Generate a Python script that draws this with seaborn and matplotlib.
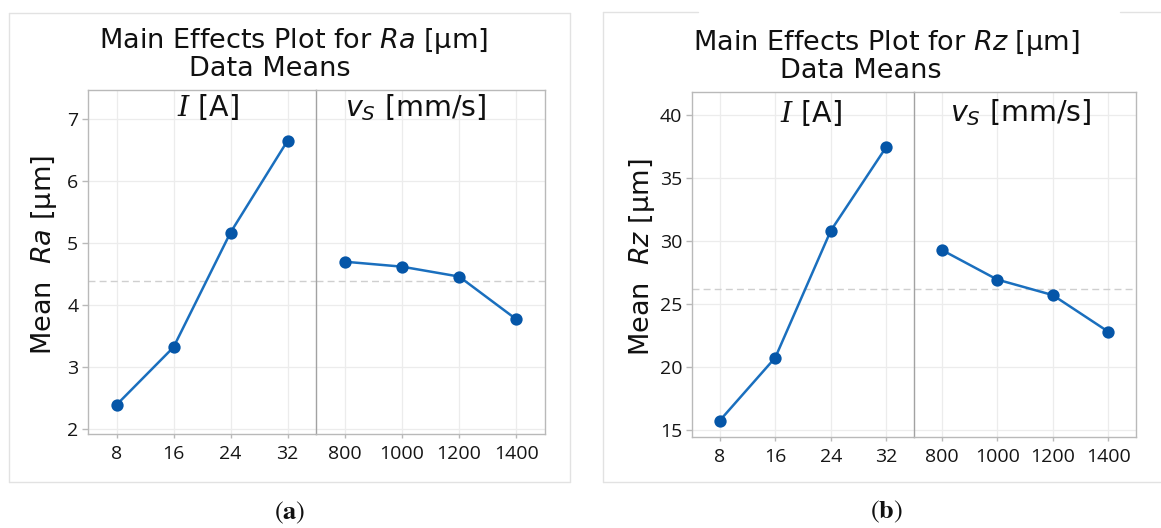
import matplotlib
matplotlib.use("Agg")
import matplotlib.pyplot as plt
from matplotlib.lines import Line2D
import pandas as pd
import seaborn as sns

# Factor levels
I_levels = ["8", "16", "24", "32"]
vs_levels = ["800", "1000", "1200", "1400"]

# Mean responses per level
ra_I = [2.39, 3.32, 5.17, 6.65]
ra_vs = [4.70, 4.62, 4.46, 3.77]
rz_I = [15.75, 20.74, 30.80, 37.44]
rz_vs = [29.28, 26.93, 25.70, 22.80]

ra_ticks = [2, 3, 4, 5, 6, 7]
rz_ticks = [15, 20, 25, 30, 35, 40]

sns.set_theme(style="white")
plt.rcParams["font.family"] = ["DejaVu Sans"]

W, H = 1161, 528
fig = plt.figure(figsize=(W / 100, H / 100), dpi=100)
fig.patch.set_facecolor("white")

LINE_C = "#1a6fbe"
MARK_C = "#0556a8"
SPINE_C = "#b9b9b9"
DIV_C = "#a2a2a2"
GRID_C = "#ececec"
TICK_C = "#151515"


def fx(px):
    return px / W


def fy(py):
    return 1 - py / H


def panel(box_l, box_r, ylim, yticks, vals_I, vals_vs, label_x, label_y, resp):
    # box = (x0, x1, ytop, ybottom) in pixels
    x0, xm, ytop, ybot = box_l
    _, x1, _, _ = box_r
    axL = fig.add_axes([fx(x0), fy(ybot), fx(xm - x0), (ybot - ytop) / H])
    axR = fig.add_axes([fx(xm), fy(ybot), fx(x1 - xm), (ybot - ytop) / H], sharey=axL)
    grand = (sum(vals_I) + sum(vals_vs)) / (len(vals_I) + len(vals_vs))
    for ax, levels, vals in ((axL, I_levels, vals_I), (axR, vs_levels, vals_vs)):
        df = pd.DataFrame({"level": levels, "mean": vals})
        ax.set_facecolor("white")
        for y in yticks:
            ax.axhline(y, color=GRID_C, lw=0.9, zorder=0)
        for i in range(len(levels)):
            ax.axvline(i, color=GRID_C, lw=0.9, zorder=0)
        ax.axhline(grand, color="#cfcfcf", lw=1.0, ls=(0, (5, 3)), zorder=1)
        sns.pointplot(data=df, x="level", y="mean", order=levels, ax=ax,
                      color=LINE_C, markers="o", markersize=7.5, linewidth=1.8,
                      markerfacecolor=MARK_C, markeredgecolor=MARK_C, zorder=3)
        ax.set_xlim(-0.5, len(levels) - 0.5)
        ax.set_xlabel("")
        ax.set_ylabel("")
        ax.grid(False)
        for s in ax.spines.values():
            s.set_color(SPINE_C)
            s.set_linewidth(1.0)
        ax.tick_params(axis="x", bottom=True, length=3, width=1, color=SPINE_C,
                       pad=5, labelsize=14, labelcolor=TICK_C)
        for t in ax.get_xticklabels():
            t.set_fontfamily("Open Sans")
    axL.set_ylim(*ylim)
    axL.set_yticks(yticks)
    axL.set_yticklabels([str(t) for t in yticks])
    axL.tick_params(axis="y", left=True, length=4, width=1, color=SPINE_C, pad=3,
                    labelsize=14, labelcolor=TICK_C)
    for t in axL.get_yticklabels():
        t.set_fontfamily("Open Sans")
    axL.spines["right"].set_visible(False)
    axR.spines["left"].set_color(DIV_C)
    axR.tick_params(axis="y", left=False, labelleft=False)
    fig.text(fx(label_x), fy(label_y), "Mean  $" + resp + "$ [μm]", rotation=90,
             ha="center", va="center", fontsize=19.5, color="#111111",
             math_fontfamily="dejavusans")
    return axL, axR


panel((88, 316, 90, 434), (316, 545, 90, 434), (1.92, 7.47), ra_ticks,
      ra_I, ra_vs, 44, 255, "Ra")
panel((692, 914, 92, 437), (914, 1136, 92, 437), (14.45, 41.8), rz_ticks,
      rz_I, rz_vs, 642, 257, "Rz")

# Titles
title_kw = dict(ha="center", va="center", fontsize=19.5, color="#111111",
                math_fontfamily="dejavusans")
fig.text(fx(293), fy(41), "Main Effects Plot for $Ra$ [μm]", **title_kw)
fig.text(fx(270), fy(69.5), "Data Means", **title_kw)
fig.text(fx(886), fy(43), "Main Effects Plot for $Rz$ [μm]", **title_kw)
fig.text(fx(861), fy(71), "Data Means", **title_kw)

# Factor headers
head_kw = dict(ha="center", va="center", fontsize=20.5, color="#111111")
for cx, cy in ((208, 107), (811, 113)):
    fig.text(fx(cx), fy(cy), "$I$ [A]", math_fontfamily="dejavuserif", **head_kw)
for cx, cy in ((416, 108), (1021, 113)):
    fig.text(fx(cx), fy(cy), "$v_S$ [mm/s]", math_fontfamily="dejavusans", **head_kw)

# Sub-figure captions
cap_kw = dict(ha="center", va="center", fontsize=19, color="#111111",
              math_fontfamily="stix")
fig.text(fx(290), fy(513), r"$(\mathbf{a})$", **cap_kw)
fig.text(fx(886), fy(512), r"$(\mathbf{b})$", **cap_kw)

# Light frames around each sub-figure
FRAME_C = "#e2e2e2"


def seg(xa, ya, xb, yb):
    fig.add_artist(Line2D([fx(xa), fx(xb)], [fy(ya), fy(yb)], color=FRAME_C,
                          lw=1.0, transform=fig.transFigure))


seg(9, 13, 570, 13)
seg(9, 13, 9, 482)
seg(9, 482, 570, 482)
seg(570, 13, 570, 482)
seg(603, 12, 698, 12)
seg(1120, 12, 1161, 12)
seg(603, 12, 603, 482)
seg(603, 482, 1161, 482)

fig.savefig("out.png", dpi=100, facecolor="white")
